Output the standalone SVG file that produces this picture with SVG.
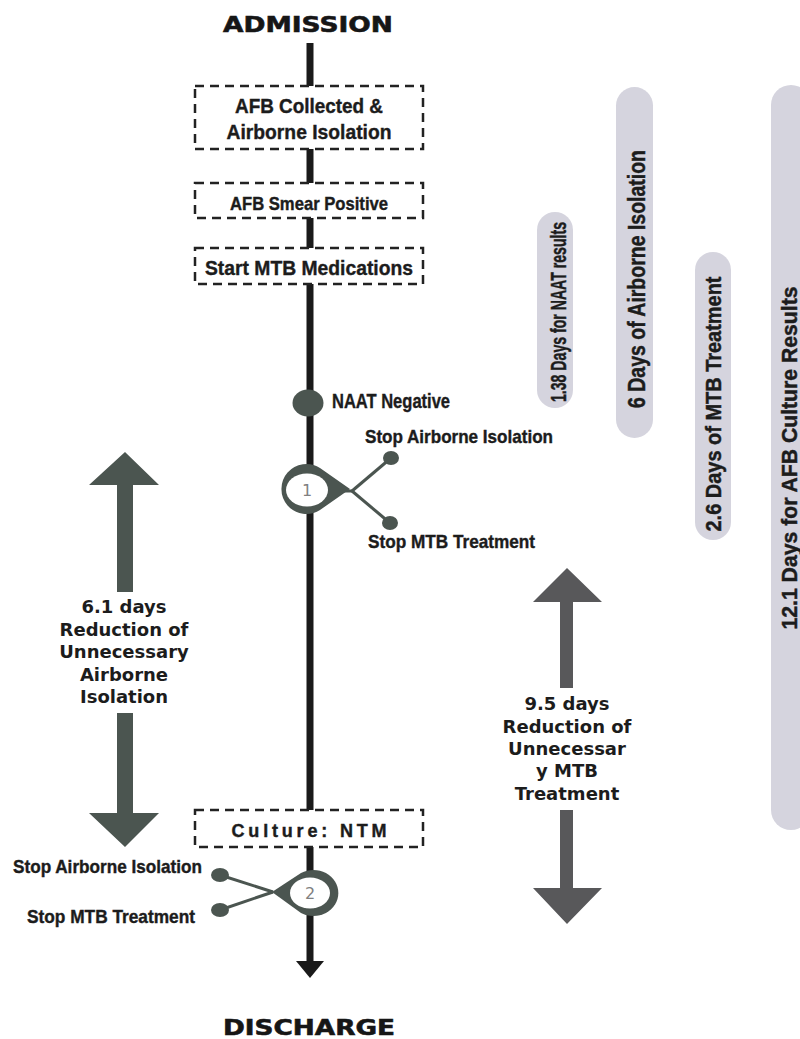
<svg xmlns="http://www.w3.org/2000/svg" width="800" height="1039" viewBox="0 0 800 1039">
<style>
.title{font-family:"DejaVu Sans",sans-serif;font-weight:bold;font-size:22px;fill:#161616;stroke:#161616;stroke-width:0.6;text-anchor:middle}
.cond{font-family:"Liberation Sans",Arial,sans-serif;font-weight:bold;fill:#1c1c1c;stroke:#1c1c1c;stroke-width:0.4}
.box{fill:#fff;stroke:#222;stroke-width:2.5;stroke-dasharray:9 6}
.pill{fill:#d5d4de}
.ptxt{font-family:"Liberation Sans",Arial,sans-serif;font-weight:bold;fill:#1c1c1c;stroke:#1c1c1c;stroke-width:0.45;text-anchor:middle}
.red{font-family:"DejaVu Sans",sans-serif;font-weight:bold;font-size:18px;fill:#1c1c1c;text-anchor:middle}
.node{fill:#4b5550}
.link{stroke:#4b5550;stroke-width:3;fill:none}
.num{font-family:"DejaVu Sans",sans-serif;font-size:16px;fill:#808080;text-anchor:middle}
</style>
<rect width="800" height="1039" fill="#fff"/>

<g id="connectors">
  <line x1="310" y1="43" x2="310" y2="962" stroke="#1a1a1a" stroke-width="7"/>
  <polygon points="296,961 324,961 310,978" fill="#1a1a1a"/>
  <line class="link" x1="340" y1="491" x2="352" y2="491"/>
  <line class="link" x1="352" y1="491" x2="391" y2="458"/>
  <line class="link" x1="352" y1="491" x2="390" y2="523"/>
  <line class="link" x1="273" y1="892" x2="220" y2="875"/>
  <line class="link" x1="273" y1="892" x2="220" y2="910"/>
</g>

<g id="admission"><text class="title" x="308" y="32" textLength="170" lengthAdjust="spacingAndGlyphs">ADMISSION</text></g>
<g id="discharge"><text class="title" x="309" y="1035" textLength="172" lengthAdjust="spacingAndGlyphs">DISCHARGE</text></g>

<g id="box-afb-collected">
  <rect class="box" x="195" y="86" width="228" height="63"/>
  <text class="cond" x="309" y="113" font-size="21" text-anchor="middle" textLength="148" lengthAdjust="spacingAndGlyphs">AFB Collected &amp;</text>
  <text class="cond" x="309" y="139" font-size="21" text-anchor="middle" textLength="165" lengthAdjust="spacingAndGlyphs">Airborne Isolation</text>
</g>
<g id="box-smear">
  <rect class="box" x="195" y="183" width="228" height="35"/>
  <text class="cond" x="309" y="210" font-size="19" text-anchor="middle" textLength="158" lengthAdjust="spacingAndGlyphs">AFB Smear Positive</text>
</g>
<g id="box-start-mtb">
  <rect class="box" x="195" y="248" width="228" height="36"/>
  <text class="cond" x="309" y="275" font-size="21" text-anchor="middle" textLength="208" lengthAdjust="spacingAndGlyphs">Start MTB Medications</text>
</g>

<g id="naat-negative">
  <ellipse class="node" cx="308" cy="403" rx="15.5" ry="13.5"/>
  <text class="cond" x="332" y="408" font-size="21" textLength="118" lengthAdjust="spacingAndGlyphs">NAAT Negative</text>
</g>

<g id="node-1">
  <path class="node" d="M 350 489 L 320 468 A 25 25 0 1 0 320 510 Z"/>
  <ellipse cx="307" cy="490" rx="21" ry="16.5" fill="#fff"/>
  <text class="num" x="307" y="496">1</text>
</g>
<g id="stop-airborne-1">
  <ellipse class="node" cx="391" cy="458" rx="8" ry="7"/>
  <text class="cond" x="365" y="443" font-size="19" textLength="188" lengthAdjust="spacingAndGlyphs">Stop Airborne Isolation</text>
</g>
<g id="stop-mtb-1">
  <ellipse class="node" cx="390" cy="523" rx="8" ry="7"/>
  <text class="cond" x="368" y="548" font-size="19" textLength="167" lengthAdjust="spacingAndGlyphs">Stop MTB Treatment</text>
</g>

<g id="box-culture">
  <rect class="box" x="195" y="810" width="228" height="37"/>
  <text class="cond" x="309" y="837" font-size="18" text-anchor="middle" textLength="155" lengthAdjust="spacing">Culture: NTM</text>
</g>

<g id="node-2">
  <path class="node" d="M 272 892 L 301 873 A 25 23 0 1 1 301 913 Z"/>
  <ellipse cx="310" cy="893" rx="20" ry="15.5" fill="#fff"/>
  <text class="num" x="310" y="899">2</text>
</g>
<g id="stop-airborne-2">
  <ellipse class="node" cx="220" cy="875" rx="9" ry="7"/>
  <text class="cond" x="13" y="873" font-size="19" textLength="189" lengthAdjust="spacingAndGlyphs">Stop Airborne Isolation</text>
</g>
<g id="stop-mtb-2">
  <ellipse class="node" cx="220" cy="910" rx="9" ry="7"/>
  <text class="cond" x="27" y="923" font-size="19" textLength="168" lengthAdjust="spacingAndGlyphs">Stop MTB Treatment</text>
</g>

<g id="pill-naat">
  <rect class="pill" x="537" y="212" width="36" height="196" rx="18"/>
  <text class="ptxt" font-size="22" transform="translate(566,312) rotate(-90)" textLength="180" lengthAdjust="spacingAndGlyphs">1.38 Days for NAAT results</text>
</g>
<g id="pill-airborne">
  <rect class="pill" x="616" y="87" width="37" height="351" rx="18.5"/>
  <text class="ptxt" font-size="23" transform="translate(645,279) rotate(-90)" textLength="258" lengthAdjust="spacingAndGlyphs">6 Days of Airborne Isolation</text>
</g>
<g id="pill-mtb">
  <rect class="pill" x="695" y="252" width="36" height="288" rx="18"/>
  <text class="ptxt" font-size="22" transform="translate(721,404) rotate(-90)" textLength="255" lengthAdjust="spacingAndGlyphs">2.6 Days of MTB Treatment</text>
</g>
<g id="pill-culture">
  <rect class="pill" x="771" y="85" width="40" height="745" rx="20"/>
  <text class="ptxt" font-size="22" transform="translate(797,458) rotate(-90)" textLength="343" lengthAdjust="spacingAndGlyphs">12.1 Days for AFB Culture Results</text>
</g>

<g id="reduction-airborne">
  <polygon points="125,452 159,485 133,485 133,592 117,592 117,485 89,485" fill="#4b5550"/>
  <polygon points="117,713 133,713 133,813 159,813 125,847 89,813 117,813" fill="#4b5550"/>
  <text class="red" x="124" y="613" font-size="19">6.1 days</text>
  <text class="red" x="124" y="636" font-size="19">Reduction of</text>
  <text class="red" x="124" y="658" font-size="19">Unnecessary</text>
  <text class="red" x="124" y="681" font-size="19">Airborne</text>
  <text class="red" x="124" y="703" font-size="19">Isolation</text>
</g>

<g id="reduction-mtb">
  <polygon points="567,568 602,602 573,602 573,688 560,688 560,602 533,602" fill="#58585a"/>
  <polygon points="560,810 573,810 573,888 602,888 567,924 533,888 560,888" fill="#58585a"/>
  <text class="red" x="567" y="710">9.5 days</text>
  <text class="red" x="567" y="733">Reduction of</text>
  <text class="red" x="567" y="755">Unnecessar</text>
  <text class="red" x="567" y="777">y MTB</text>
  <text class="red" x="567" y="800">Treatment</text>
</g>
</svg>
